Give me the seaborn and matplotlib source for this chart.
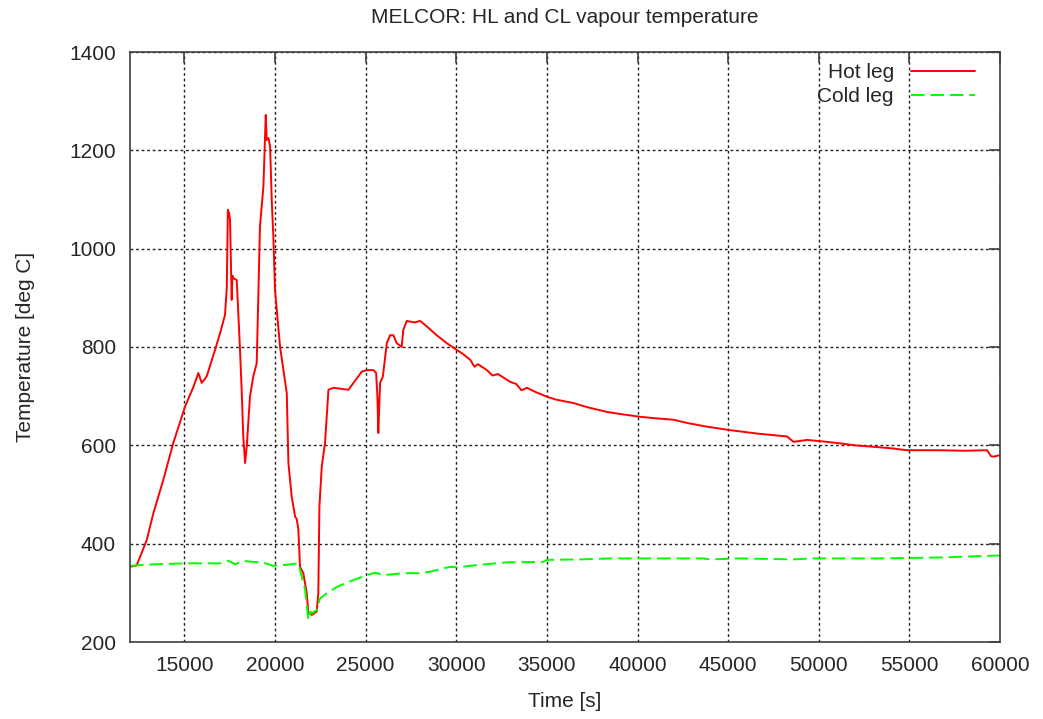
import matplotlib
matplotlib.use("Agg")
import matplotlib.pyplot as plt
import seaborn as sns
import pandas as pd

# Hot leg vapour temperature [deg C] vs time [s]
hot_time = [12000, 12370, 12920, 13290, 13840, 14390, 15040, 15500, 15770, 15960,
            16230, 16690, 16970, 17240, 17340, 17400, 17470, 17520, 17610, 17650,
            17700, 17890, 18070, 18160, 18250, 18350, 18440, 18620, 18800, 18990,
            19080, 19170, 19360, 19490, 19540, 19640, 19730, 19820, 19910, 20000,
            20280, 20650, 20740, 20920, 21110, 21200, 21290, 21380, 21560, 21750,
            21840, 22030, 22300, 22390, 22450, 22580, 22760, 22950, 23220, 24050,
            24330, 24790, 25060, 25430, 25580, 25650, 25700, 25750, 25800, 25950,
            26170, 26350, 26530, 26710, 26990, 27080, 27270, 27700, 28010, 28370,
            28920, 29470, 30030, 30400, 30770, 31000, 31200, 31690, 32000, 32300,
            32980, 33300, 33600, 33900, 34400, 35000, 35500, 36470, 37000, 37400,
            38310, 39000, 40150, 41000, 41990, 42800, 43830, 45080, 46590, 48250,
            48610, 49350, 50200, 51190, 52000, 53030, 54000, 54870, 56710, 58000,
            59290, 59500, 59650, 60000]
hot_temp = [353, 356, 407, 462, 530, 605, 679, 719, 747, 727,
            740, 794, 828, 865, 920, 1079, 1072, 1058, 896, 945,
            940, 936, 794, 713, 618, 564, 597, 699, 740, 767,
            902, 1045, 1126, 1272, 1221, 1225, 1207, 1099, 1024, 916,
            800, 706, 564, 496, 455, 450, 428, 353, 340, 300,
            259, 255, 262, 300, 475, 557, 605, 713, 717, 713,
            727, 750, 753, 753, 747, 699, 625, 679, 727, 740,
            808, 824, 824, 808, 800, 835, 853, 850, 853, 842,
            824, 808, 794, 785, 774, 760, 765, 753, 742, 745,
            729, 725, 712, 717, 708, 699, 693, 686, 680, 676,
            668, 664, 658, 655, 652, 645, 638, 631, 624, 618,
            607, 611, 608, 604, 600, 597, 594, 590, 590, 589,
            590, 578, 577, 580]

# Cold leg vapour temperature [deg C] vs time [s]
cold_time = [12000, 13290, 15130, 16970, 17430, 17800, 18250, 19360, 19910, 20650,
             21290, 21380, 21660, 21840, 21950, 22030, 22300, 22490, 22860, 23410,
             24330, 25060, 25520, 25980, 27080, 28010, 28560, 29660, 30030, 31320,
             32790, 34810, 35000, 36840, 38500, 39970, 43650, 44020, 45670, 48610,
             49540, 53220, 56890, 59100, 60000]
cold_temp = [355, 358, 360, 360, 365, 358, 365, 361, 355, 357,
             360, 346, 306, 245, 262, 258, 265, 289, 299, 312,
             326, 336, 341, 336, 340, 340, 343, 353, 352, 357,
             362, 363, 367, 368, 370, 370, 370, 368, 370, 368,
             370, 370, 372, 375, 376]

x_ticks = [15000, 20000, 25000, 30000, 35000, 40000, 45000, 50000, 55000, 60000]
y_ticks = [200, 400, 600, 800, 1000, 1200, 1400]

title = "MELCOR: HL and CL vapour temperature"
x_label = "Time [s]"
y_label = "Temperature [deg C]"

sns.set_style("white")
plt.rcParams["font.family"] = ["Liberation Sans", "DejaVu Sans"]
plt.rcParams["font.size"] = 15

fig = plt.figure(figsize=(10.43, 7.19), dpi=100)
ax = fig.add_axes([130 / 1043, 77 / 719, 870 / 1043, 590 / 719])

hot = pd.DataFrame({"t": hot_time, "T": hot_temp})
cold = pd.DataFrame({"t": cold_time, "T": cold_temp})

sns.lineplot(data=hot, x="t", y="T", ax=ax, color="#ff0000", lw=1.4,
             label="Hot leg", estimator=None, sort=False)
sns.lineplot(data=cold, x="t", y="T", ax=ax, color="#00ff00", lw=1.4,
             label="Cold leg", estimator=None, sort=False, dashes=False)
ax.lines[1].set_dashes([7, 3])

ax.set_xlim(12000, 60000)
ax.set_ylim(200, 1400)
ax.set_xticks(x_ticks)
ax.set_yticks(y_ticks)
ax.set_xticklabels([str(v) for v in x_ticks])
ax.set_yticklabels([str(v) for v in y_ticks])

ax.grid(True, color="#222222", linestyle=(0, (2, 2)), lw=1.0)
ax.set_axisbelow(True)
for s in ax.spines.values():
    s.set_visible(True)
    s.set_color("#404040")
    s.set_linewidth(1.2)
ax.tick_params(direction="in", length=8, width=1.2, color="#404040",
               top=True, right=True, labelsize=15, pad=10)

ax.set_title(title, fontsize=15, pad=21)
ax.set_xlabel(x_label, fontsize=15, labelpad=12)
ax.set_ylabel(y_label, fontsize=15, labelpad=25)

leg = ax.legend(loc="upper right", bbox_to_anchor=(0.981, 0.995),
                frameon=False, markerfirst=False, fontsize=15,
                handlelength=3.1, borderaxespad=0.0,
                labelspacing=0.25, handletextpad=0.8)
leg.get_lines()[1].set_dashes([7, 3])
for t in leg.get_texts():
    t.set_ha("right")

fig.savefig("out.png", dpi=100)
